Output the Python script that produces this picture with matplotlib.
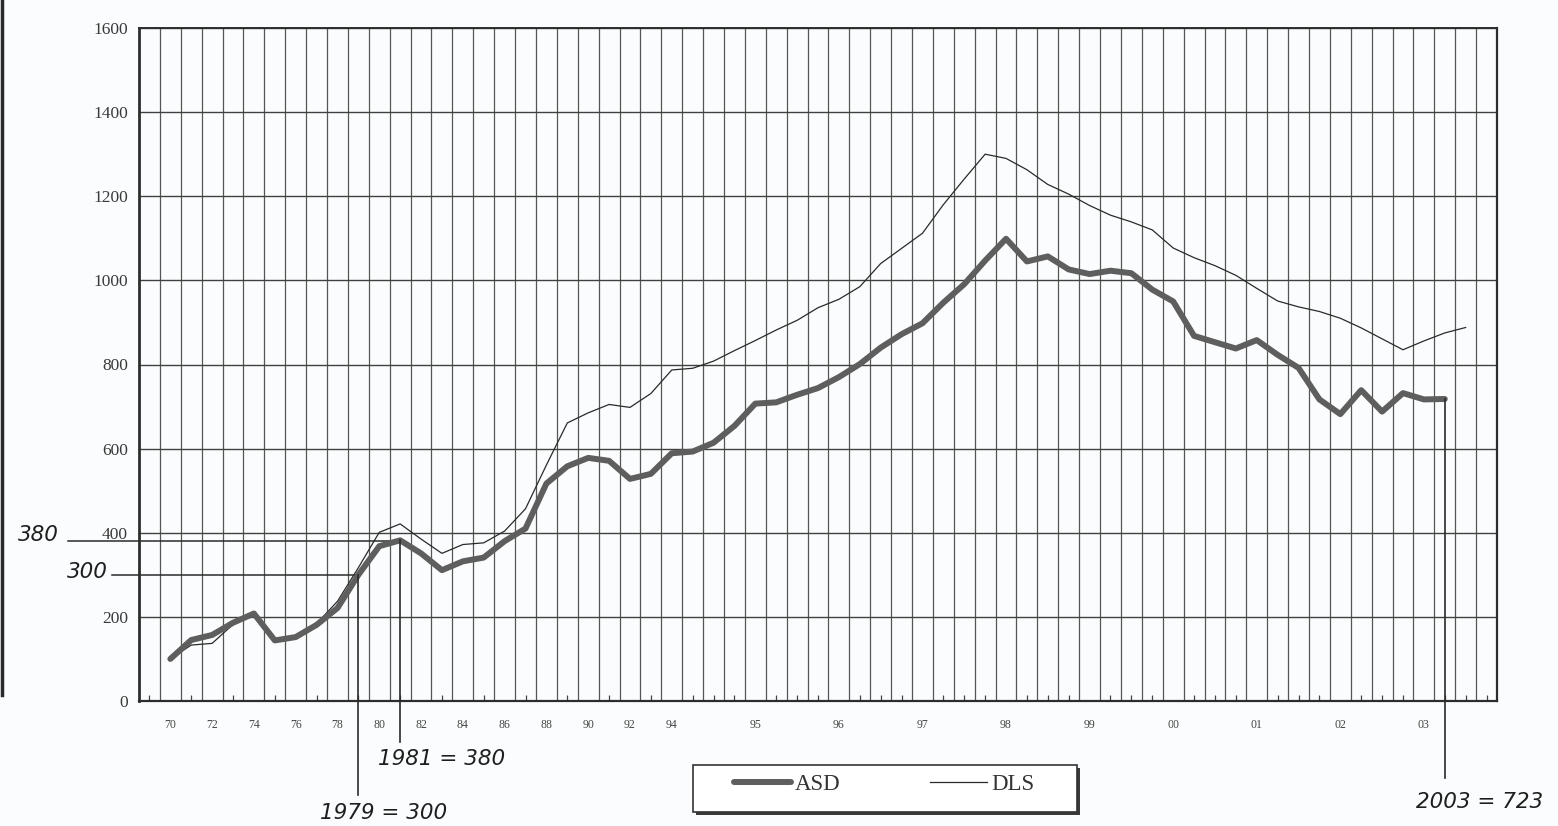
import matplotlib
matplotlib.use("Agg")
import matplotlib.pyplot as plt
from matplotlib.lines import Line2D
from matplotlib.patches import Rectangle
import numpy as np

# ---------------- data ----------------
series_names = ["ASD", "DLS"]
annual_labels = ["70", "72", "74", "76", "78", "80", "82", "84", "86", "88", "90", "92", "94"]
quarter_year_labels = ["95", "96", "97", "98", "99", "00", "01", "02", "03"]
y_ticks = [0, 200, 400, 600, 800, 1000, 1200, 1400, 1600]

asd = [100, 145, 157, 186, 208, 144, 152, 181, 221, 300,
       368, 382, 351, 311, 332, 341, 380, 410, 517, 558,
       578, 571, 528, 540, 589, 593, 614, 654, 707, 710,
       728, 744, 770, 801, 840, 872, 898, 947, 991, 1047,
       1099, 1045, 1057, 1026, 1015, 1023, 1017, 978, 950, 868,
       853, 838, 858, 823, 792, 717, 682, 739, 688, 732,
       717, 718]

dls = [100, 133, 137, 182, 208, 144, 152, 184, 237, 317,
       401, 421, 385, 351, 372, 376, 404, 457, 561, 661,
       685, 705, 698, 731, 787, 791, 808, 833, 857, 882,
       905, 935, 955, 985, 1040, 1076, 1112, 1180, 1241, 1300,
       1290, 1263, 1228, 1205, 1178, 1155, 1139, 1120, 1077, 1054,
       1035, 1012, 981, 951, 937, 926, 910, 887, 861, 835,
       856, 875, 888]

annotations = [("1979 = 300", 10, 300), ("1981 = 380", 12, 380), ("2003 = 723", 62, 723)]

# ---------------- figure ----------------
W, H = 1558, 826
BG = "#fbfcfd"
fig = plt.figure(figsize=(W / 100, H / 100), dpi=100)
fig.patch.set_facecolor(BG)


def fx(px):
    return px / W


def fy(py):
    return 1 - py / H


L, R, T, B = 139, 1497, 28, 701
ax = fig.add_axes([fx(L), fy(B), fx(R) - fx(L), fy(T) - fy(B)])
ax.set_facecolor(BG)

n_cells = 65
ax.set_xlim(-0.5, n_cells - 0.5)
ax.set_ylim(0, 1600)

# vertical grid at cell boundaries
ax.vlines(np.arange(0.5, n_cells - 0.5, 1.0), 0, 1600, color="#555555", lw=0.9, zorder=1)

# horizontal grid
ax.set_yticks(y_ticks)
ax.set_yticklabels([str(v) for v in y_ticks], family="Liberation Serif", fontsize=12.5, color="#3a3a3a")
ax.yaxis.grid(True, color="#404040", lw=1.0, zorder=1)
ax.tick_params(axis="y", length=0, pad=8)

# x ticks: labels at year positions, small inward marks at each cell centre
label_pos = list(np.arange(1, 26, 2)) + [29 + 4 * k for k in range(len(quarter_year_labels))]
ax.set_xticks(label_pos)
ax.set_xticklabels(annual_labels + quarter_year_labels, family="Liberation Serif", fontsize=8.5, color="#444444")
ax.tick_params(axis="x", which="major", length=0, pad=13)
ax.set_xticks(np.arange(0, n_cells, 1), minor=True)
ax.tick_params(axis="x", which="minor", direction="in", length=4, width=0.9, color="#444444")

for side, lw in (("left", 2.0), ("bottom", 1.6), ("top", 1.4), ("right", 1.6)):
    ax.spines[side].set_color("#2d2d2d")
    ax.spines[side].set_linewidth(lw)

# series
xa = np.arange(1, len(asd) + 1)
xd = np.arange(1, len(dls) + 1)
l_asd, = ax.plot(xa, asd, color="#5e5e5e", lw=4.3, solid_joinstyle="round", solid_capstyle="round",
                 zorder=4, label=series_names[0])
l_dls, = ax.plot(xd, dls, color="#2a2a2a", lw=0.9, zorder=3, label=series_names[1])

# legend box with shadow
fig.add_artist(Rectangle((fx(696), fy(815)), fx(1080) - fx(696), fy(768) - fy(815),
                         transform=fig.transFigure, facecolor="#3a3a3a", edgecolor="none", zorder=3))
fig.add_artist(Rectangle((fx(693), fy(812)), fx(1077) - fx(693), fy(765) - fy(812),
                         transform=fig.transFigure, facecolor="#ffffff", edgecolor="#333333",
                         lw=1.2, zorder=4))
leg = fig.legend(handles=[l_asd, l_dls], loc="center", bbox_to_anchor=(fx(884), fy(784)),
                 ncol=2, frameon=False, prop={"family": "Liberation Serif", "size": 16.5},
                 handlelength=2.5, handletextpad=0.17, columnspacing=3.9, borderpad=0.0)
leg.set_zorder(5)
for t in leg.get_texts():
    t.set_color("#333333")

# ---------------- handwritten annotations ----------------
hand = dict(family="DejaVu Sans", style="italic", color="#1e1e1e", fontsize=15.5)
inv = ax.transData.inverted()


def data_x(px):
    return inv.transform((px, 0))[0]


def data_y(py):
    return inv.transform((0, H - py))[1]


# horizontal guide lines from the y axis labels to the points
ax.plot([data_x(68), 12], [380, 380], color="#2a2a2a", lw=1.1, clip_on=False, zorder=2)
ax.plot([data_x(112), 10], [300, 300], color="#2a2a2a", lw=1.1, clip_on=False, zorder=2)
fig.text(fx(38), fy(535), "380", ha="center", va="center", **hand)
fig.text(fx(87), fy(572), "300", ha="center", va="center", **hand)

# vertical guide lines from the points down to the notes
bottoms = {10: 795, 12: 742, 62: 778}
text_pos = {10: (384, 813), 12: (442, 759), 62: (1480, 802)}
for label, xi, val in annotations:
    ax.plot([xi, xi], [asd[xi - 1], data_y(bottoms[xi])], color="#2a2a2a", lw=1.2,
            clip_on=False, zorder=5)
    px, py = text_pos[xi]
    fig.text(fx(px), fy(py), label, ha="center", va="center", **hand)

# scan edge at the far left
fig.add_artist(Line2D([fx(2), fx(2)], [fy(0), fy(695)], color="#2a2a2a", lw=2.5))

fig.savefig("out.png", dpi=100, facecolor=fig.get_facecolor())
